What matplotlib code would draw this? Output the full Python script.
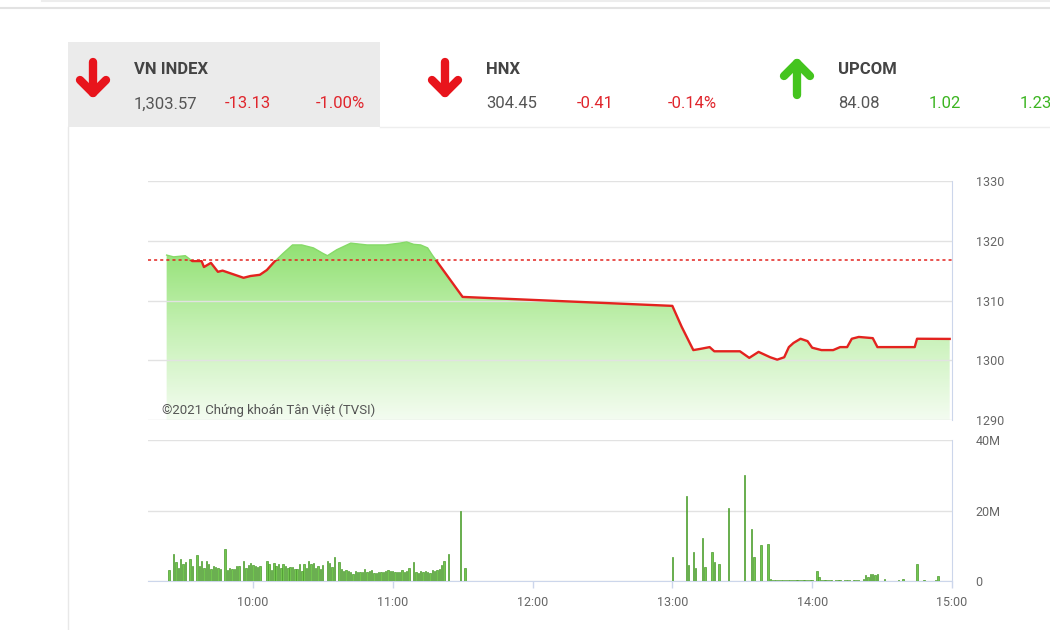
import numpy as np
import matplotlib.pyplot as plt
from matplotlib.colors import LinearSegmentedColormap
from matplotlib.patches import Rectangle

plt.rcParams['font.family'] = ['Roboto', 'DejaVu Sans']

# reference close of previous session
ref_close = 1316.70

# VN-Index intraday (time, index points)
price_times = ["9:23", "9:26", "9:31", "9:34", "9:38", "9:39", "9:42", "9:45", "9:47",
               "9:50", "9:56", "9:59", "10:03", "10:06", "10:09", "10:13", "10:17",
               "10:21", "10:26", "10:30", "10:32", "10:36", "10:42", "10:49", "10:57",
               "11:03", "11:06", "11:09", "11:12", "11:15", "11:17", "11:30",
               "13:00", "13:04", "13:09", "13:12", "13:16", "13:18", "13:29", "13:33",
               "13:37", "13:42", "13:45", "13:48", "13:50", "13:52", "13:55", "13:58",
               "14:00", "14:04", "14:09", "14:12", "14:15", "14:17", "14:20", "14:26",
               "14:28", "14:44", "14:45", "14:59"]
price_values = [1317.6, 1317.3, 1317.5, 1316.6, 1316.6, 1315.6, 1316.3, 1314.8, 1315.0,
                1314.6, 1313.8, 1314.1, 1314.3, 1315.1, 1316.4, 1317.9, 1319.3,
                1319.3, 1318.8, 1317.9, 1317.5, 1318.5, 1319.6, 1319.3, 1319.3,
                1319.6, 1319.8, 1319.4, 1319.3, 1318.8, 1317.6, 1310.6,
                1309.1, 1305.6, 1301.7, 1301.9, 1302.2, 1301.5, 1301.5, 1300.4,
                1301.4, 1300.5, 1300.1, 1300.5, 1302.2, 1302.9, 1303.6, 1303.2,
                1302.1, 1301.7, 1301.7, 1302.2, 1302.2, 1303.6, 1303.9, 1303.7,
                1302.2, 1302.2, 1303.6, 1303.57]

# traded volume per minute (millions)
vol_times = ["9:24", "9:26", "9:27", "9:28", "9:29", "9:30", "9:31", "9:33", "9:34", "9:36",
             "9:37", "9:38", "9:39", "9:40", "9:41", "9:42", "9:43", "9:44", "9:45", "9:46",
             "9:48", "9:49", "9:50", "9:51", "9:52", "9:53", "9:54", "9:56", "9:57", "9:58",
             "9:59", "10:00", "10:01", "10:02", "10:03", "10:06", "10:07", "10:08", "10:09",
             "10:10", "10:11", "10:12", "10:13", "10:14", "10:15", "10:16", "10:17", "10:18",
             "10:19", "10:20", "10:21", "10:22", "10:23", "10:24", "10:25", "10:26", "10:27",
             "10:28", "10:29", "10:30", "10:32", "10:33", "10:34", "10:35", "10:37", "10:38",
             "10:39", "10:40", "10:41", "10:42", "10:43", "10:44", "10:45", "10:46", "10:47",
             "10:48", "10:49", "10:50", "10:51", "10:52", "10:53", "10:54", "10:55", "10:56",
             "10:57", "10:58", "10:59", "11:00", "11:01", "11:02", "11:03", "11:04", "11:05",
             "11:06", "11:07", "11:09", "11:10", "11:11", "11:12", "11:13", "11:14", "11:15",
             "11:16", "11:17", "11:18", "11:19", "11:20", "11:21", "11:22", "11:24", "11:29",
             "11:31",
             "13:00", "13:06", "13:07", "13:09", "13:10", "13:13", "13:14", "13:17", "13:18",
             "13:20", "13:24", "13:31", "13:34", "13:35", "13:38", "13:41", "13:42", "13:43",
             "13:44", "13:45", "13:46", "13:47", "13:48", "13:49", "13:50", "13:51", "13:52",
             "13:53", "13:54", "13:55", "13:56", "13:57", "13:58", "13:59", "14:00", "14:02",
             "14:03", "14:04", "14:05", "14:06", "14:07", "14:08", "14:10", "14:11", "14:12",
             "14:14", "14:15", "14:16", "14:18", "14:19", "14:20", "14:22", "14:23", "14:24",
             "14:25", "14:26", "14:27", "14:28", "14:31", "14:37", "14:39", "14:45", "14:48",
             "14:53", "14:54"]
vol_values = [3.0, 7.6, 5.4, 3.8, 6.2, 4.8, 5.4, 6.2, 4.3, 7.3,
              4.3, 5.7, 3.8, 5.7, 4.8, 3.5, 4.3, 4.0, 3.8, 3.5,
              9.2, 3.1, 3.8, 3.5, 3.3, 4.3, 4.3, 5.7, 3.8, 4.6,
              5.0, 4.5, 4.3, 4.0, 4.3, 5.7, 4.8, 3.1, 5.0,
              4.3, 4.8, 3.8, 4.8, 4.3, 3.8, 4.0, 4.0, 3.5,
              3.5, 4.8, 2.9, 4.8, 3.8, 5.7, 4.8, 5.0, 3.8,
              4.3, 3.3, 4.6, 5.7, 5.2, 4.0, 6.7, 5.4, 3.5,
              2.9, 3.0, 2.9, 2.6, 2.1, 2.7, 2.6, 2.6, 2.6,
              3.5, 2.6, 2.9, 3.1, 2.2, 2.4, 2.6, 2.6, 2.6,
              2.9, 3.1, 2.7, 2.7, 2.6, 2.6, 2.6, 3.1, 2.6,
              2.9, 3.6, 5.4, 2.6, 2.4, 2.7, 2.6, 2.9, 2.6,
              2.2, 3.1, 2.9, 3.0, 3.5, 4.6, 5.7, 7.8, 20.0,
              3.8,
              6.8, 24.1, 4.4, 8.3, 3.6, 12.2, 4.1, 8.3, 5.3,
              4.8, 20.7, 30.2, 14.8, 6.8, 10.1, 10.6, 0.6, 0.4,
              0.3, 0.4, 0.3, 0.4, 0.3, 0.3, 0.4, 0.3, 0.3,
              0.4, 0.3, 0.3, 0.3, 0.4, 0.3, 0.3, 0.4, 2.9,
              1.2, 0.4, 0.3, 0.3, 0.3, 0.3, 0.3, 0.3, 0.3,
              0.3, 0.3, 0.3, 0.3, 0.3, 0.3, 0.5, 1.7, 1.0,
              2.0, 2.1, 1.7, 1.9, 0.7, 0.4, 0.5, 4.8, 0.3,
              0.3, 1.4]

hour_ticks = [10, 11, 12, 13, 14, 15]
hour_labels = ["10:00", "11:00", "12:00", "13:00", "14:00", "15:00"]


def to_hours(s):
    h, m = s.split(":")
    return int(h) + int(m) / 60


pt = np.array([to_hours(s) for s in price_times])
pv = np.array(price_values)
vt = np.array([to_hours(s) for s in vol_times])
vv = np.array(vol_values)

RED = '#e3231f'
x0, x1 = 9.25, 15.0

fig = plt.figure(figsize=(10.5, 6.3), dpi=100)

# page background / header drawn in pixel coordinates
bg = fig.add_axes([0, 0, 1, 1])
bg.set_xlim(0, 1050)
bg.set_ylim(630, 0)
bg.axis('off')
bg.plot([0, 1050], [8, 8], color='#e2e2e2', lw=1.5)
bg.plot([42, 1050], [1, 1], color='#ededed', lw=1.5)
bg.add_patch(Rectangle((68, 42), 312, 85, color='#ebebeb', lw=0))
bg.plot([68, 68], [127, 630], color='#e8e8e8', lw=1)
bg.plot([380, 1050], [127, 127], color='#eeeeee', lw=1)


def arrow(x, up, color):
    tip = 63 if up else 93
    tail = 95 if up else 62
    arm = 13 if up else -13
    kw = dict(color=color, lw=6, solid_capstyle='round', solid_joinstyle='round')
    bg.plot([x, x], [tail, tip], **kw)
    bg.plot([x - 13, x, x + 13], [tip + arm, tip, tip + arm], **kw)


arrow(93, False, '#e8141c')
arrow(445, False, '#e8141c')
arrow(797, True, '#44c41e')

headers = [
    (134, "VN INDEX", "1,303.57", "-13.13", "-1.00%", '#e0262d'),
    (486, "HNX", "304.45", "-0.41", "-0.14%", '#e0262d'),
    (838, "UPCOM", "84.08", "1.02", "1.23%", '#3cb521'),
]
for hx, name, val, chg, pct, c in headers:
    bg.text(hx, 69, name, fontsize=12, fontweight='bold', color='#444444', va='center')
    bg.text(hx, 104, val, fontsize=12, color='#555555', va='center')
    bg.text(hx + 91, 104, chg, fontsize=12, color=c, va='center')
    bg.text(hx + 182, 104, pct, fontsize=12, color=c, va='center')

# price panel
ax = fig.add_axes([148 / 1050, 1 - 420 / 630, 804 / 1050, 239 / 630])
ax.patch.set_visible(False)
poly = ax.fill_between(pt, pv, 1290, color='none', lw=0)
cmap = LinearSegmentedColormap.from_list('g', ['#f4fcf1', '#c6f1b5', '#8fe070'])
grad = np.linspace(0, 1, 256).reshape(-1, 1)
im = ax.imshow(grad, cmap=cmap, aspect='auto', origin='lower',
               extent=[x0, x1, 1290, 1320], zorder=1)
im.set_clip_path(poly.get_paths()[0], transform=ax.transData)

green_line, = ax.plot(pt, pv, color='#86da68', lw=1.0, zorder=4)
green_line.set_clip_path(Rectangle((x0, ref_close), x1 - x0, 40, transform=ax.transData))
red_line, = ax.plot(pt, pv, color=RED, lw=1.7, zorder=5)
red_line.set_clip_path(Rectangle((x0, 1290), x1 - x0, ref_close - 1290, transform=ax.transData))
ax.axhline(ref_close, color=RED, lw=1.1, ls=(0, (2, 2)), zorder=3)

ax.set_xlim(x0, x1)
ax.set_ylim(1290, 1330)
ax.set_xticks([])
ax.set_yticks([1290, 1300, 1310, 1320, 1330])
ax.yaxis.tick_right()
ax.tick_params(axis='y', length=0, pad=17, labelsize=9, labelcolor='#666666')
ax.set_axisbelow('line')
ax.yaxis.grid(True, color='#e2e2e2', lw=1)
for s in ['left', 'top', 'bottom']:
    ax.spines[s].set_visible(False)
ax.spines['right'].set_color('#ccd6eb')
ax.text(0.0174, 0.042, '©2021 Chứng khoán Tân Việt (TVSI)', transform=ax.transAxes,
        fontsize=9.5, color='#555555', va='center', zorder=6)

# volume panel
vx = fig.add_axes([148 / 1050, 1 - 581 / 630, 804 / 1050, 141 / 630])
vx.patch.set_visible(False)
vx.bar(vt, vv, width=0.6 / 60, color='#72c64f', edgecolor='#4a9a2c', lw=0.5, zorder=3)
vx.set_xlim(x0, x1)
vx.set_ylim(0, 40)
vx.set_yticks([0, 20, 40])
vx.set_yticklabels(['0', '20M', '40M'])
vx.yaxis.tick_right()
vx.tick_params(axis='y', length=0, pad=17, labelsize=9, labelcolor='#666666')
vx.set_xticks(hour_ticks)
vx.set_xticklabels(hour_labels)
vx.tick_params(axis='x', length=5, width=1, color='#ccd6eb', pad=6,
               labelsize=9, labelcolor='#666666')
vx.set_axisbelow('line')
vx.yaxis.grid(True, color='#e2e2e2', lw=1)
for s in ['left', 'top']:
    vx.spines[s].set_visible(False)
vx.spines['right'].set_color('#ccd6eb')
vx.spines['bottom'].set_color('#ccd6eb')

fig.savefig('out.png', dpi=100)
